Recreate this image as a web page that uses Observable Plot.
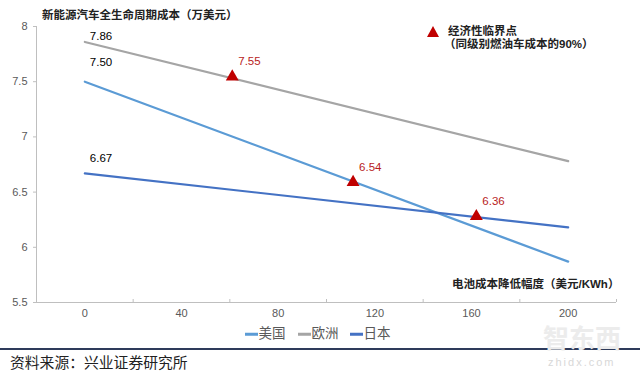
<!DOCTYPE html>
<html>
<head>
<meta charset="utf-8">
<script src="https://cdn.jsdelivr.net/npm/d3@7"></script>
<script src="https://cdn.jsdelivr.net/npm/@observablehq/plot@0.6"></script>
<style>
  html, body { margin: 0; padding: 0; background: #fff; }
  #wrap { position: relative; width: 640px; height: 377px; overflow: hidden; background: #fff;
    font-family: "Liberation Sans", Arial, "Noto Sans CJK SC", sans-serif; }
  #wrap svg.plot { position: absolute; left: 0; top: 0; }
  .t { position: absolute; white-space: nowrap; line-height: 1; transform: translateY(-50%); }
  .sw { position: absolute; height: 2.5px; width: 13px; transform: translateY(-50%); }
</style>
</head>
<body>
<div id="wrap"></div>
<script>
// ---- data ----
const batteryDrop = [0, 200];              // x: 电池成本降低幅度 (美元/KWh)
const usCost = [7.50, 5.87];               // 美国
const euCost = [7.86, 6.78];               // 欧洲
const jpCost = [6.67, 6.18];               // 日本
const seriesNames = ["美国", "欧洲", "日本"];
const seriesColors = ["#5B9BD5", "#A5A5A5", "#4472C4"];

const criticalX = [61, 111, 162];          // 经济性临界点
const criticalY = [7.545, 6.59, 6.28];
const criticalLabels = ["7.55", "6.54", "6.36"];

const xTickValues = [0, 40, 80, 120, 160, 200];
const xTickMarks = [20, 60, 100, 140, 180, 220];
const yTickValues = [5.5, 6, 6.5, 7, 7.5, 8];

// ---- tables ----
const toRows = (ys) => batteryDrop.map((x, i) => ({x, y: ys[i]}));
const usRows = toRows(usCost), euRows = toRows(euCost), jpRows = toRows(jpCost);
const critRows = criticalX.map((x, i) => ({x, y: criticalY[i], label: criticalLabels[i]}));

const font = '"Liberation Sans", Arial, "Noto Sans CJK SC", sans-serif';

const chart = Plot.plot({
  width: 640,
  height: 377,
  marginLeft: 36,
  marginRight: 24,
  marginTop: 26,
  marginBottom: 75,
  x: {domain: [-20, 220]},
  y: {domain: [5.5, 8]},
  style: {fontFamily: font, fontSize: "11px", background: "transparent", overflow: "visible"},
  marks: [
    Plot.ruleY([5.5], {stroke: "#BFBFBF", strokeWidth: 1}),
    Plot.ruleX([-20], {stroke: "#BFBFBF", strokeWidth: 1}),
    Plot.axisY({ticks: yTickValues, tickFormat: (d) => String(d), tickSize: 3, tickPadding: 6, stroke: "#BFBFBF", fill: "#595959", fontSize: 11, label: null}),
    Plot.axisX({ticks: xTickValues, tickFormat: (d) => String(d), tickSize: 0, tickPadding: 7, fill: "#595959", fontSize: 11, label: null}),
    Plot.axisX({ticks: xTickMarks, tickSize: 3, dy: -3, tickFormat: () => "", stroke: "#BFBFBF", label: null}),
    Plot.line(euRows, {x: "x", y: "y", stroke: seriesColors[1], strokeWidth: 2.2}),
    Plot.line(usRows, {x: "x", y: "y", stroke: seriesColors[0], strokeWidth: 2.2}),
    Plot.line(jpRows, {x: "x", y: "y", stroke: seriesColors[2], strokeWidth: 2.2}),
    Plot.text([euRows[0]], {x: "x", y: "y", text: (d) => d.y.toFixed(2), textAnchor: "start", dx: 5, dy: -6, fill: "#000", fontSize: 11.5}),
    Plot.text([usRows[0]], {x: "x", y: "y", text: (d) => d.y.toFixed(2), textAnchor: "start", dx: 5, dy: -19, fill: "#000", fontSize: 11.5}),
    Plot.text([jpRows[0]], {x: "x", y: "y", text: (d) => d.y.toFixed(2), textAnchor: "start", dx: 5, dy: -15, fill: "#000", fontSize: 11.5}),
    Plot.dot(critRows, {x: "x", y: "y", symbol: "triangle", r: 4.8, fill: "#C00000", stroke: "none"}),
    Plot.text(critRows, {x: "x", y: "y", text: "label", textAnchor: "start", dx: 6, dy: -15, fill: "#B81C1C", fontSize: 11.5})
  ]
});
chart.classList.add("plot");

const wrap = document.getElementById("wrap");
wrap.appendChild(chart);

function addText(txt, left, cy, style) {
  const el = document.createElement("div");
  el.className = "t";
  el.textContent = txt;
  el.style.left = left + "px";
  el.style.top = cy + "px";
  Object.assign(el.style, style || {});
  wrap.appendChild(el);
  return el;
}

// title
addText("新能源汽车全生命周期成本（万美元）", 42, 15.5, {fontSize: "11.5px", fontWeight: "bold", color: "#222"});

// critical point legend
const tri = document.createElement("div");
Object.assign(tri.style, {position: "absolute", left: "427px", top: "26px", width: "0", height: "0",
  borderLeft: "6px solid transparent", borderRight: "6px solid transparent", borderBottom: "11px solid #C00000"});
wrap.appendChild(tri);
addText("经济性临界点", 448, 31.7, {fontSize: "11.5px", fontWeight: "bold", color: "#222"});
addText("（同级别燃油车成本的90%）", 444, 44.5, {fontSize: "11.5px", fontWeight: "bold", color: "#222"});

// x axis title
addText("电池成本降低幅度（美元/KWh）", 452, 285, {fontSize: "11.5px", fontWeight: "bold", color: "#222"});

// bottom legend
const legendSw = [245, 298, 350];
seriesNames.forEach((name, i) => {
  const sw = document.createElement("div");
  sw.className = "sw";
  Object.assign(sw.style, {left: legendSw[i] + "px", top: "334.3px", background: seriesColors[i]});
  wrap.appendChild(sw);
  addText(name, legendSw[i] + 13.5, 334.3, {fontSize: "13.5px", color: "#595959"});
});

// separator line
const rule = document.createElement("div");
Object.assign(rule.style, {position: "absolute", left: "0", top: "348.3px", width: "640px", height: "2px", background: "#2E3B5B"});
wrap.appendChild(rule);

// source
addText("资料来源：兴业证券研究所", 10, 361.7, {fontSize: "14.8px", color: "#222", fontFamily: '"Noto Sans CJK SC", sans-serif'});

// watermark
addText("智东西", 543, 337, {fontSize: "26px", color: "#ececec", fontWeight: "bold", fontFamily: '"Noto Sans CJK SC", sans-serif'});
addText("zhidx.com", 548, 362, {fontSize: "11px", color: "#d8d8d8", letterSpacing: "2px"});
</script>
</body>
</html>
